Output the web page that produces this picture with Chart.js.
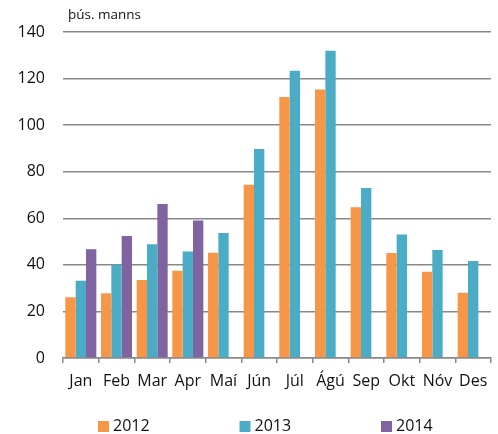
<!DOCTYPE html>
<html>
<head>
<meta charset="utf-8">
<script src="https://cdn.jsdelivr.net/npm/chart.js@4"></script>
<style>
  html, body { margin: 0; padding: 0; background: #fff; }
  #wrap { width: 498px; height: 434px; }
</style>
</head>
<body>
<div id="wrap"><canvas id="chart" width="498" height="434"></canvas></div>
<script>
// Months and yearly values (þús. manns)
const months = ['Jan', 'Feb', 'Mar', 'Apr', 'Maí', 'Jún', 'Júl', 'Ágú', 'Sep', 'Okt', 'Nóv', 'Des'];
const values2012 = [26.1, 27.8, 33.5, 37.5, 45.2, 74.4, 112.1, 115.3, 64.7, 45.1, 37.0, 28.0];
const values2013 = [33.2, 40.0, 48.8, 45.7, 53.7, 89.8, 123.4, 131.9, 73.0, 53.0, 46.4, 41.7];
const values2014 = [46.7, 52.4, 66.1, 59.1, null, null, null, null, null, null, null, null];
const yTicks = [0, 20, 40, 60, 80, 100, 120, 140];

const FONT = "'Open Sans', sans-serif";

// Unit label above the plot + legend along the bottom
const extras = {
  id: 'extras',
  afterDraw(chart) {
    const { ctx, chartArea } = chart;
    ctx.save();
    ctx.fillStyle = '#111';
    ctx.font = `13.5px ${FONT}`;
    ctx.textBaseline = 'middle';
    ctx.textAlign = 'left';
    ctx.fillText('þús. manns', chartArea.left + 5, 15);

    const startX = 98;
    const step = 141.5;
    chart.data.datasets.forEach((ds, i) => {
      const x = startX + i * step;
      ctx.fillStyle = ds.backgroundColor;
      ctx.fillRect(x, 421, 11, 11);
      ctx.fillStyle = '#111';
      ctx.font = `16px ${FONT}`;
      ctx.fillText(ds.label, x + 15, 426.5);
    });
    ctx.restore();
  }
};

new Chart(document.getElementById('chart'), {
  type: 'bar',
  data: {
    labels: months,
    datasets: [
      { label: '2012', data: values2012, backgroundColor: '#F79646' },
      { label: '2013', data: values2013, backgroundColor: '#4BACC6' },
      { label: '2014', data: values2014, backgroundColor: '#8064A2' }
    ]
  },
  options: {
    responsive: false,
    animation: false,
    layout: {
      padding: { top: 32, right: 7, bottom: 36, left: 0 }
    },
    datasets: {
      bar: {
        categoryPercentage: 0.87,
        barPercentage: 1.0
      }
    },
    plugins: {
      legend: { display: false },
      tooltip: { enabled: false }
    },
    scales: {
      x: {
        grid: {
          drawOnChartArea: false,
          drawTicks: true,
          tickLength: 5,
          color: '#888',
          lineWidth: 1.5
        },
        border: { color: '#888', width: 1.5 },
        ticks: {
          color: '#111',
          font: { family: FONT, size: 16 },
          padding: 9,
          maxRotation: 0,
          autoSkip: false
        },
        afterFit: (scale) => { scale.height = 40; }
      },
      y: {
        min: 0,
        max: 140,
        afterBuildTicks: (scale) => {
          scale.ticks = yTicks.map(v => ({ value: v }));
        },
        grid: {
          drawTicks: false,
          color: '#888',
          lineWidth: 1.5
        },
        border: { display: false },
        ticks: {
          color: '#111',
          font: { family: FONT, size: 16 },
          padding: 18
        },
        afterFit: (scale) => { scale.width = 63; }
      }
    }
  },
  plugins: [extras]
});
</script>
</body>
</html>
